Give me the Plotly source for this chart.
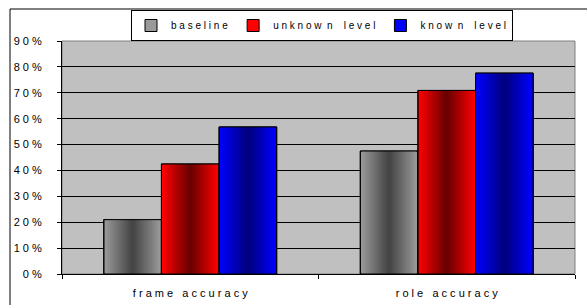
import plotly.graph_objects as go

categories = ["f r a m e   a c c u r a c y", "r o l e   a c c u r a c y"]
series_names = ["b a s e l i n e", "u n k n o w  n    l e v e l", "k n o w  n    l e v e l"]
baseline = [0.21, 0.475]
unknown_level = [0.425, 0.709]
known_level = [0.568, 0.776]
series_values = [baseline, unknown_level, known_level]
tick_vals = [0, 0.1, 0.2, 0.3, 0.4, 0.5, 0.6, 0.7, 0.8, 0.9]
tick_text = ["0 %", "1 0 %", "2 0 %", "3 0 %", "4 0 %", "5 0 %", "6 0 %", "7 0 %", "8 0 %", "9 0 %"]

edge_colors = [(0x9a, 0x9a, 0x9a), (0xff, 0x00, 0x00), (0x00, 0x00, 0xff)]
center_colors = [(0x45, 0x45, 0x45), (0x6a, 0x00, 0x00), (0x00, 0x00, 0x80)]

FONT = "Liberation Sans"
BAR_W = 0.2247
N = 18

def mix(a, b, t):
    return "rgb(%d,%d,%d)" % tuple(round(a[i] + (b[i] - a[i]) * t) for i in range(3))

fig = go.Figure()
for s, (name, vals) in enumerate(zip(series_names, series_values)):
    center = (s - 1) * BAR_W
    for k in range(N):
        w = BAR_W * (1 - k / N)
        col = mix(edge_colors[s], center_colors[s], k / (N - 1))
        fig.add_trace(go.Bar(
            x=categories, y=vals, name=name,
            width=[w] * len(vals), offset=[center - w / 2] * len(vals),
            marker=dict(color=col, line=dict(color="black", width=1 if k == 0 else 0)),
            showlegend=(k == 0), legendgroup=name, hoverinfo="skip",
        ))
    fig.add_trace(go.Bar(
        x=categories, y=vals, name=name,
        width=[BAR_W] * len(vals), offset=[center - BAR_W / 2] * len(vals),
        marker=dict(color="rgba(0,0,0,0)", line=dict(color="black", width=1)),
        showlegend=False, legendgroup=name, hoverinfo="skip",
    ))

L, R, T, B = 62, 12, 41, 31
W, H = 587, 305
pw, ph = W - L - R, H - T - B

fig.update_layout(
    width=W, height=H, barmode="overlay",
    margin=dict(l=L, r=R, t=T, b=B, autoexpand=False),
    paper_bgcolor="white", plot_bgcolor="#c0c0c0",
    font=dict(family=FONT, size=10, color="black"),
    legend=dict(
        orientation="h", x=(322 - L) / pw, y=(H - B - 10) / ph,
        xanchor="center", yanchor="top",
        bgcolor="white", bordercolor="black", borderwidth=1,
        font=dict(family=FONT, size=10, color="black"),
        itemwidth=30, tracegroupgap=0,
    ),
    xaxis=dict(
        showline=True, linecolor="black", linewidth=1,
        ticks="outside", ticklen=4, tickcolor="black", tickson="boundaries",
        showgrid=False, tickfont=dict(family=FONT, size=11), ticklabelstandoff=9,
        range=[-0.5, 1.5], fixedrange=True,
    ),
    yaxis=dict(
        range=[0, 0.9], tickvals=tick_vals, ticktext=tick_text,
        showline=True, linecolor="black", linewidth=1,
        ticks="outside", ticklen=4, tickcolor="black",
        showgrid=True, gridcolor="black", gridwidth=1,
        tickfont=dict(family=FONT, size=11), ticklabelstandoff=13,
        zeroline=False, fixedrange=True,
    ),
    shapes=[
        dict(type="rect", xref="paper", yref="paper", x0=0, x1=1, y0=0, y1=1,
             line=dict(color="#808080", width=1), layer="below"),
        dict(type="rect", xref="paper", yref="paper",
             x0=(10 - L) / pw, x1=1.3, y0=-0.5, y1=(H - B - 9) / ph,
             line=dict(color="black", width=1)),
    ],
)

fig.write_html("out.html", config={"displayModeBar": False},
               post_script="document.body.style.margin='0';document.body.style.overflow='hidden';")
